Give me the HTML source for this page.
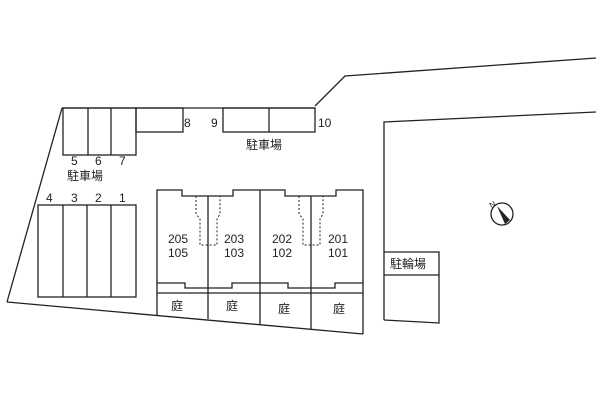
<!DOCTYPE html>
<html><head><meta charset="utf-8"><style>body{margin:0;background:#fff}svg text{font-family:"Liberation Sans","Noto Sans CJK JP",sans-serif;fill:#222}</style></head><body>
<svg width="600" height="400" viewBox="0 0 600 400" xmlns="http://www.w3.org/2000/svg">
<g fill="none" stroke="#222" stroke-width="1.3">
<polyline points="7,302 62,108"/>
<polyline points="7,302 363,334"/>
<polyline points="315,106 345,76 596,58"/>
<polyline points="384,320 384,122 596,112"/>
<polyline points="384,320 439,323 439,252 384,252"/>
<line x1="384" y1="275" x2="439" y2="275"/>
<line x1="62" y1="108" x2="315" y2="108"/>
<rect x="63" y="108" width="73" height="47"/>
<line x1="88" y1="108" x2="88" y2="155"/><line x1="111" y1="108" x2="111" y2="155"/>
<rect x="136" y="108" width="47" height="24"/>
<rect x="223" y="108" width="92" height="24"/>
<line x1="269" y1="108" x2="269" y2="132"/>
<rect x="38" y="205" width="98" height="92"/>
<line x1="63" y1="205" x2="63" y2="297"/><line x1="87" y1="205" x2="87" y2="297"/><line x1="111" y1="205" x2="111" y2="297"/>
<polyline points="157,315 157,190 182,190 182,196 233,196 233,190 285,190 285,196 336,196 336,190 363,190 363,334"/>
<line x1="208" y1="196" x2="208" y2="319"/>
<line x1="260" y1="190" x2="260" y2="324"/>
<line x1="311" y1="196" x2="311" y2="329"/>
<polyline points="157,283 185,283 185,288 232,288 232,283 288,283 288,288 335,288 335,283 363,283"/>
<line x1="157" y1="293" x2="363" y2="293"/>
<g stroke-dasharray="2,2" stroke-width="1">
<polyline points="196,196 196,214 200,219 200,245 217,245 217,219 220,214 220,196"/>
<polyline points="299,196 299,214 303,219 303,245 320,245 320,219 323,214 323,196"/>
</g>
<circle cx="502" cy="214" r="11"/>
</g>
<polygon points="497,206 505,224 510,220" fill="#222"/>
<text x="490" y="207" font-size="8" transform="rotate(-30 493 205)">N</text>
<g font-size="12">
<text x="184" y="127">8</text><text x="211" y="127">9</text><text x="318" y="127">10</text>
<text x="71" y="165">5</text><text x="95" y="165">6</text><text x="119" y="165">7</text>
<text x="46" y="202">4</text><text x="71" y="202">3</text><text x="95" y="202">2</text><text x="119" y="202">1</text>
<text x="67" y="180">駐車場</text><text x="246" y="149">駐車場</text>
<text x="168" y="243">205</text><text x="168" y="257">105</text>
<text x="224" y="243">203</text><text x="224" y="257">103</text>
<text x="272" y="243">202</text><text x="272" y="257">102</text>
<text x="328" y="243">201</text><text x="328" y="257">101</text>
<text x="171" y="310">庭</text><text x="226" y="310">庭</text><text x="278" y="313">庭</text><text x="333" y="313">庭</text>
<text x="390" y="268">駐輪場</text>
</g>
</svg>
</body></html>
